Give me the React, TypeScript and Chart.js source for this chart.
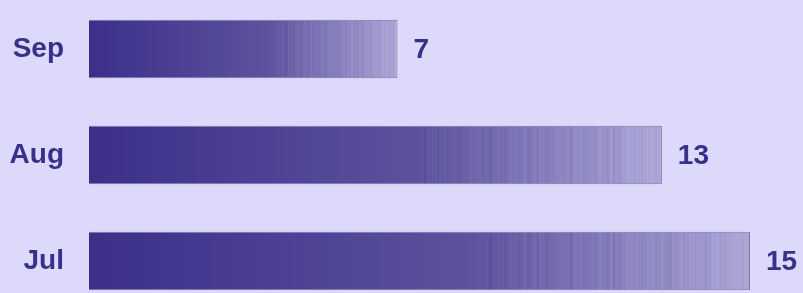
import React, { useEffect, useRef } from "react";
import { Chart, registerables } from "chart.js";

Chart.register(...registerables);

const categories = ["Sep", "Aug", "Jul"];
const values = [7, 13, 15];

const TEXT = "#3a2f8a";
const FONT = "'Liberation Sans', Arial, sans-serif";

function hash(i: number) {
  const s = Math.sin(i * 12.9898 + 78.233) * 43758.5453;
  return s - Math.floor(s);
}

function mix(a: number[], b: number[], t: number) {
  return a.map((v, i) => v + (b[i] - v) * t);
}

function makeGradient(c2d: CanvasRenderingContext2D, x0: number, x1: number) {
  const g = c2d.createLinearGradient(x0, 0, x1, 0);
  const c0 = [59, 47, 138];
  const c1 = [92, 82, 158];
  const c2 = [172, 167, 214];
  const split = 0.58;
  const L = Math.max(1, Math.round(x1 - x0));
  for (let i = 0; i <= L; i++) {
    const t = i / L;
    let c = t < split ? mix(c0, c1, t / split) : mix(c1, c2, (t - split) / (1 - split));
    if (t > split) {
      const h = hash(i * 3 + 1);
      if (h < 0.55) {
        const j = (hash(i * 7 + 5) - 0.5) * 20;
        c = c.map((v) => v + j);
      }
    }
    c = c.map((v) => Math.max(0, Math.min(255, Math.round(v))));
    g.addColorStop(t, `rgb(${c[0]},${c[1]},${c[2]})`);
  }
  return g;
}

function barGradient(ctx: any) {
  const chart = ctx.chart;
  const xs = chart.scales?.x;
  if (!xs || typeof ctx.raw !== "number") return "#3a2e8a";
  const x0 = xs.getPixelForValue(0);
  const x1 = xs.getPixelForValue(ctx.raw);
  if (!isFinite(x0) || !isFinite(x1) || x1 <= x0) return "#3a2e8a";
  return makeGradient(chart.ctx, x0, x1);
}

const valueLabels = {
  id: "valueLabels",
  afterDatasetsDraw(chart: any) {
    const meta = chart.getDatasetMeta(0);
    const c = chart.ctx;
    c.save();
    c.fillStyle = TEXT;
    c.font = `bold 28px ${FONT}`;
    c.textAlign = "left";
    c.textBaseline = "middle";
    meta.data.forEach((bar: any, i: number) => {
      c.fillText(String(values[i]), bar.x + 16, bar.y + 1);
    });
    c.restore();
  },
};

export default function App() {
  const ref = useRef<HTMLCanvasElement>(null);
  useEffect(() => {
    document.body.style.margin = "0";
    document.body.style.background = "#dcd9fb";
    const chart = new Chart(ref.current!, {
      type: "bar",
      data: {
        labels: categories,
        datasets: [
          {
            data: values,
            backgroundColor: barGradient as any,
            borderColor: "#7a76a3",
            borderWidth: 1,
            barPercentage: 0.55,
            categoryPercentage: 1,
          },
        ],
      },
      options: {
        indexAxis: "y",
        responsive: false,
        animation: false,
        devicePixelRatio: 1,
        layout: { padding: { left: 0, right: 53, top: 6, bottom: 6 } },
        plugins: { legend: { display: false }, tooltip: { enabled: false } },
        scales: {
          x: { display: false, min: 0, max: 15 },
          y: {
            grid: { display: false, drawTicks: false },
            border: { display: false },
            ticks: {
              padding: 25,
              color: TEXT,
              font: { family: FONT, size: 28, weight: "bold" },
            },
            afterFit: (s: any) => {
              s.width = 89;
              s.paddingTop = 0;
              s.paddingBottom = 0;
            },
          },
        },
      },
      plugins: [valueLabels],
    });
    return () => chart.destroy();
  }, []);
  return (
    <div style={{ position: "relative", width: 803, height: 293, overflow: "hidden", background: "#dcd9fb" }}>
      <canvas ref={ref} width={803} height={330} style={{ position: "absolute", left: 0, top: -10 }} />
    </div>
  );
}
